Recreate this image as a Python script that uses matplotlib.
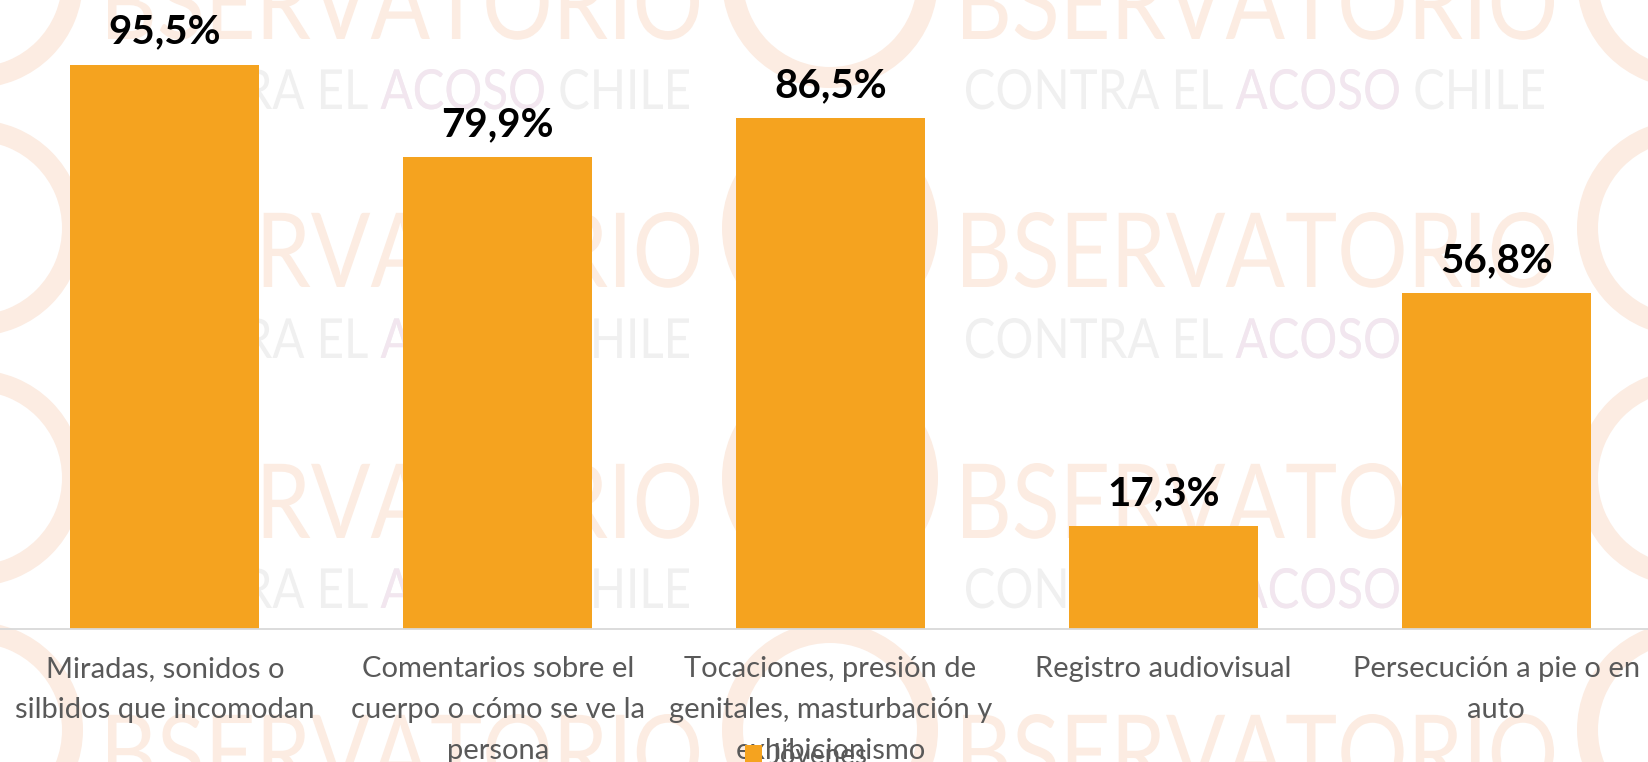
import matplotlib
matplotlib.use("Agg")
import numpy as np
import matplotlib.pyplot as plt
from matplotlib.textpath import TextPath
from matplotlib.patches import PathPatch, Wedge
from matplotlib.font_manager import FontProperties
from matplotlib.transforms import Affine2D, IdentityTransform

# ---------------- data ----------------
categories = [
    "Miradas, sonidos o\nsilbidos que incomodan",
    "Comentarios sobre el\ncuerpo o cómo se ve la\npersona",
    "Tocaciones, presión de\ngenitales, masturbación y\nexhibicionismo",
    "Registro audiovisual",
    "Persecución a pie o en\nauto",
]
values = [95.5, 79.9, 86.5, 17.3, 56.8]
series_name = "Jóvenes"

# ---------------- style ----------------
W, H = 1648, 762
BAR = "#F5A31F"
TXT = "#595959"
PEACH = "#FCECE2"
LGRAY = "#F0F0F0"
LAV = "#F2E6EF"
FAM = ["Lato", "DejaVu Sans"]
plt.rcParams["font.family"] = FAM

fig = plt.figure(figsize=(W / 100, H / 100), dpi=100)
fig.patch.set_facecolor("white")

# ---------------- faint background watermark ----------------
fp = FontProperties(family="Lato")


def wm_text(s, x_left, base_top, width, cap, color, sub=None, subcolor=None):
    tp = TextPath((0, 0), s, size=100, prop=fp)
    ext = tp.get_extents()
    sx = width / ext.width
    sy = cap / ext.y1
    tr = Affine2D().translate(-ext.x0, 0).scale(sx, sy).translate(x_left, H - base_top)
    fig.add_artist(PathPatch(tr.transform_path(tp), fc=color, ec="none",
                             transform=IdentityTransform(), zorder=-5))
    if sub:
        pre = s[: s.index(sub) + len(sub)]
        pp = TextPath((0, 0), pre, size=100, prop=fp)
        ps = TextPath((0, 0), sub, size=100, prop=fp)
        off = pp.get_extents().x1 - ps.get_extents().x1
        tr2 = Affine2D().translate(off, 0) + tr
        fig.add_artist(PathPatch(tr2.transform_path(ps), fc=subcolor, ec="none",
                                 transform=IdentityTransform(), zorder=-4))


for xb in [108, 963]:
    for base in [39, 287, 538, 789]:
        wm_text("BSERVATORIO", xb, base, 591, 75, PEACH)
    for base in [109, 358, 608]:
        wm_text("CONTRA EL ACOSO CHILE", xb + 3, base, 578, 40, LGRAY, "ACOSO", LAV)

for cx in [-25, 830, 1685]:
    for cy in [-20, 228, 478, 730]:
        fig.add_artist(Wedge((cx, H - cy), 108, 0, 360, width=21, fc=PEACH, ec="none",
                             transform=IdentityTransform(), zorder=-6))

# ---------------- chart ----------------
ax = fig.add_axes([-1.5 / W, 133.5 / H, 1664 / W, 589.8 / H])
ax.set_facecolor("none")
x = np.arange(len(values))
bars = ax.bar(x, values, width=0.568, color=BAR, label=series_name, zorder=2)
ax.set_xlim(-0.5, len(values) - 0.5)
ax.set_ylim(0, 100)

for s in ["left", "right", "top"]:
    ax.spines[s].set_visible(False)
ax.spines["bottom"].set_color("#D9D9D9")
ax.spines["bottom"].set_linewidth(1.3)
ax.set_yticks([])
ax.set_xticks(x, labels=categories)
ax.tick_params(axis="x", length=0, pad=20, labelsize=21, labelcolor=TXT)
for t in ax.get_xticklabels():
    t.set_linespacing(1.7)

for xi, v in zip(x, values):
    lbl = f"{v:.1f}%".replace(".", ",")
    ax.annotate(lbl, (xi, v), xytext=(0, 15.5), textcoords="offset points",
                ha="center", va="baseline", fontsize=29, fontweight="bold",
                color="black", annotation_clip=False)

fig.legend(handles=[bars], labels=[series_name], loc="upper left",
           bbox_to_anchor=(745 / W, 1 - 743 / H), frameon=False, fontsize=20,
           handlelength=0.6, handleheight=0.6, borderpad=0, borderaxespad=0,
           handletextpad=0.25, labelcolor=TXT)

fig.savefig("out.png", dpi=100, facecolor="white")
